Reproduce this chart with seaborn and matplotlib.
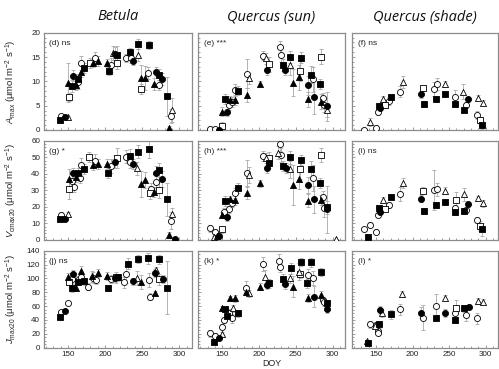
import numpy as np
import pandas as pd
import matplotlib
matplotlib.use('Agg')
import matplotlib.pyplot as plt
import seaborn as sns
from matplotlib.ticker import MultipleLocator

sns.set_theme(style='ticks')
plt.rcParams['font.family'] = ['Liberation Sans', 'DejaVu Sans']
plt.rcParams['mathtext.fontset'] = 'custom'
plt.rcParams['mathtext.rm'] = 'Liberation Sans'
plt.rcParams['mathtext.it'] = 'Liberation Sans:italic'

# ---------------- data ----------------
col_titles = ['Betula', 'Quercus (sun)', 'Quercus (shade)']
row_labels = [r'$A_{\rm max}$ (μmol m$^{-2}$ s$^{-1}$)',
              r'$V_{\rm cmax20}$ (μmol m$^{-2}$ s$^{-1}$)',
              r'$J_{\rm max20}$ (μmol m$^{-2}$ s$^{-1}$)']
panel_tags = ['(d) ns', '(e) ***', '(f) ns', '(g) *', '(h) ***', '(i) ns',
              '(j) ns', '(k) *', '(l) *']
x_ticks = [150, 200, 250, 300]
y_ticks = [[0, 5, 10, 15, 20], [0, 10, 20, 30, 40, 50, 60],
           [0, 20, 40, 60, 80, 100, 120, 140]]

# group codes: fc filled circle, oc open circle, fs filled square,
# os open square, ft filled triangle, ot open triangle
d_doy = [139, 140, 146, 150, 150, 151, 155, 157, 161, 163, 164, 168, 168, 171, 179, 187, 183, 190, 202, 205, 208, 211, 213, 216, 216, 228, 233, 235, 238, 244, 248, 244, 254, 248, 258, 259, 266, 268, 272, 272, 277, 284, 286, 289, 290]
d_val = [2.1, 2.9, 2.6, 2.6, 9.7, 6.8, 9.0, 11.2, 9.2, 9.9, 10.5, 13.8, 12.0, 12.8, 13.7, 14.8, 13.7, 14.2, 13.7, 12.2, 13.4, 15.8, 15.6, 15.4, 13.7, 14.8, 16.1, 14.7, 14.2, 17.7, 10.6, 15.4, 10.7, 8.4, 11.7, 17.5, 9.4, 12.0, 9.2, 11.4, 10.5, 6.9, 0.5, 2.9, 4.1]
d_err = [0.4, 0.4, 0.4, 0.3, 4.0, 0.8, 1.2, 1.2, 1.0, 1.5, 1.0, 1.5, 1.2, 1.0, 1.0, 1.2, 0.8, 1.0, 0.8, 0.8, 1.5, 1.5, 1.5, 1.8, 1.2, 0.8, 0.8, 1.0, 0.8, 1.0, 2.8, 1.2, 2.5, 1.0, 1.3, 0.8, 1.2, 1.0, 1.0, 1.2, 1.2, 4.0, 0.3, 1.5, 2.5]
d_grp = ['fs','oc','fc','ot','ft','os','fs','fc','ft','oc','fs','oc','ft','fs','os','oc','ft','ft','ft','fs','oc','ot','fc','fs','os','oc','fs','oc','fc','fs','ft','ot','ft','os','oc','fs','ft','fc','oc','fs','fc','fs','ft','oc','ot']

e_doy = [133, 140, 146, 150, 150, 156, 154, 159, 160, 168, 163, 167, 172, 183, 183, 187, 201, 206, 209, 214, 211, 228, 230, 232, 236, 242, 242, 246, 254, 257, 256, 284, 271, 266, 273, 266, 275, 283, 284, 287, 289, 292, 293]
e_val = [0.3, 0.3, 0.1, 0.8, 3.8, 3.6, 6.4, 5.1, 6.2, 6.2, 5.8, 8.2, 8.1, 7.2, 11.6, 10.6, 9.5, 15.3, 14.7, 13.5, 12.3, 17.1, 15.4, 13.4, 12.3, 15.0, 13.4, 9.7, 10.8, 14.9, 12.1, 15.1, 11.4, 9.2, 10.4, 6.3, 6.7, 9.4, 5.8, 6.5, 5.1, 4.9, 4.1]
e_err = [0.2, 0.2, 0.2, 0.8, 1.0, 0.8, 1.0, 1.0, 0.8, 1.0, 1.0, 1.2, 1.0, 1.5, 3.0, 1.2, 0.5, 1.0, 1.2, 1.5, 1.0, 1.2, 1.5, 1.2, 1.0, 1.2, 2.0, 2.8, 2.5, 1.2, 2.0, 1.5, 1.8, 2.0, 2.5, 1.5, 3.5, 1.0, 1.5, 1.2, 1.5, 3.0, 1.5]
e_grp = ['oc','oc','fc','os','ft','fc','fs','oc','ft','ft','oc','oc','fs','ft','oc','ot','ft','oc','ot','os','fc','oc','oc','fs','fc','fs','ot','ft','ft','fs','os','os','fs','fc','oc','ft','fc','fs','ft','oc','oc','fc','ot']

f_doy = [133, 141, 150, 153, 154, 155, 159, 162, 167, 170, 183, 187, 211, 215, 214, 229, 233, 232, 244, 244, 258, 258, 269, 271, 273, 276, 289, 296, 288, 292, 295]
f_val = [0.1, 1.7, 0.5, 3.6, 4.9, 4.5, 6.4, 5.1, 6.0, 6.8, 7.9, 9.9, 7.3, 5.3, 8.7, 8.4, 9.5, 6.4, 7.4, 9.4, 6.8, 5.3, 7.9, 4.2, 5.1, 6.3, 6.6, 5.6, 3.1, 2.1, 1.0]
f_err = [0.2, 0.8, 0.5, 0.5, 0.6, 0.5, 0.5, 0.6, 0.8, 0.6, 1.2, 1.2, 0.8, 0.6, 0.6, 1.5, 1.2, 0.6, 0.5, 0.6, 1.5, 0.6, 1.5, 0.6, 0.6, 0.5, 0.5, 0.5, 0.8, 0.6, 0.8]
f_grp = ['oc','ot','oc','oc','fs','fc','ot','os','oc','fs','oc','ot','fc','fs','os','oc','oc','fs','fs','ot','oc','fs','ot','fs','oc','fc','ot','ot','oc','os','fs']

g_doy = [139, 140, 146, 150, 151, 151, 155, 157, 158, 161, 164, 168, 166, 171, 178, 183, 187, 190, 202, 204, 208, 213, 216, 228, 233, 234, 238, 244, 243, 248, 259, 254, 260, 262, 266, 268, 272, 273, 269, 277, 284, 286, 289, 290, 294]
g_val = [12.9, 15.3, 12.9, 15.7, 36.6, 30.6, 35.6, 40.3, 32.2, 37.8, 40.7, 45.3, 37.2, 43.1, 49.9, 45.5, 47.9, 45.9, 45.7, 40.3, 44.7, 47.3, 49.7, 50.3, 50.9, 47.3, 45.9, 53.4, 43.3, 33.8, 54.8, 36.2, 28.6, 30.6, 29.2, 40.7, 42.3, 30.2, 35.2, 36.8, 24.6, 3.0, 11.7, 15.5, 0.4]
g_err = [1.5, 1.5, 1.5, 1.0, 6, 6, 4, 3, 3, 3, 3, 4, 3, 3, 3, 3, 4, 3, 3, 3, 4, 4, 6, 4, 4, 4, 3, 4, 4, 8, 5, 5, 4, 4, 3, 4, 4, 5, 4, 5, 10, 2, 5, 4, 0.5]
g_grp = ['fs','oc','fc','ot','ft','os','oc','fc','oc','ft','fs','oc','oc','fs','os','ft','oc','ft','ft','fs','oc','fc','os','oc','fs','oc','fc','fs','ot','ft','fs','ft','os','oc','ft','fc','fs','os','oc','fc','fs','ft','oc','ot','fc']

h_doy = [133, 140, 139, 146, 143, 150, 150, 156, 154, 159, 160, 153, 168, 163, 167, 171, 183, 183, 187, 201, 206, 209, 214, 214, 211, 228, 230, 226, 232, 237, 242, 242, 246, 254, 257, 256, 284, 271, 266, 273, 266, 275, 283, 284, 287, 289, 293, 293, 305]
h_val = [7.0, 5.0, 2.0, 2.6, 2.4, 6.4, 15.1, 13.7, 23.6, 18.5, 24.6, 17.1, 24.2, 22.1, 28.2, 31.6, 28.6, 40.3, 39.3, 34.2, 50.7, 49.3, 49.3, 46.7, 43.3, 58.0, 51.3, 52.7, 44.7, 43.7, 49.9, 42.7, 33.2, 36.6, 48.3, 42.7, 51.3, 42.7, 33.2, 37.6, 23.8, 24.6, 34.6, 24.2, 25.8, 19.1, 18.5, 19.7, 0.4]
h_err = [2, 1.5, 0.5, 0.8, 0.8, 2, 2, 2, 3, 2, 2, 2, 3, 2, 3, 3, 4, 8, 5, 2, 3, 3, 4, 3, 3, 4, 4, 4, 3, 3, 4, 5, 12, 6, 3, 6, 4, 5, 5, 8, 4, 8, 3, 3, 4, 5, 14, 4, 0.5]
h_grp = ['oc','oc','ot','fc','ft','os','ft','fc','fs','oc','ft','oc','ft','oc','oc','fs','ft','oc','ot','ft','oc','ot','os','fs','fc','oc','oc','ot','fs','fc','fs','ot','ft','ft','fs','os','os','fs','fc','oc','ft','fc','fs','ft','oc','oc','fc','fs','ot']

i_doy = [133, 141, 139, 150, 153, 154, 155, 159, 162, 167, 170, 183, 187, 211, 215, 214, 229, 233, 232, 244, 244, 258, 258, 260, 270, 271, 273, 276, 289, 296, 288, 292, 295]
i_val = [6.4, 9.1, 2.0, 5.0, 15.1, 19.1, 17.1, 24.2, 18.7, 21.1, 26.2, 27.8, 34.6, 25.0, 17.5, 29.8, 30.2, 30.6, 21.1, 23.2, 29.8, 19.1, 17.1, 24.2, 27.6, 17.5, 18.1, 21.7, 25.2, 22.1, 12.1, 8.5, 6.4]
i_err = [0.8, 1.5, 0.5, 1.5, 1.5, 2, 1.5, 1.5, 1.5, 2, 1.5, 4, 3, 2, 2, 2, 12, 4, 2, 1.5, 2, 2, 2, 5, 4, 2, 2, 1.5, 1.5, 2, 2, 3, 4]
i_grp = ['oc','oc','fs','oc','oc','fs','fc','ot','os','oc','fs','oc','ot','fc','fs','os','oc','oc','fs','fs','ot','oc','fs','os','ot','fs','oc','fc','ot','ot','oc','os','fs']

j_doy = [139, 140, 146, 150, 150, 151, 155, 157, 155, 161, 164, 164, 168, 168, 171, 177, 182, 183, 190, 188, 202, 204, 208, 215, 213, 217, 226, 228, 231, 238, 244, 243, 248, 258, 259, 260, 267, 267, 269, 273, 272, 278, 284]
j_val = [44.7, 51.0, 52.9, 64.0, 102.5, 95.2, 86.6, 106.8, 98.6, 86.6, 97.6, 95.2, 110.6, 102.0, 96.2, 88.0, 103.4, 101.0, 107.7, 97.6, 103.4, 85.6, 99.0, 101.5, 101.0, 101.5, 94.3, 105.8, 121.2, 96.2, 128.0, 100.0, 94.3, 128.9, 97.6, 73.6, 79.4, 108.2, 112.0, 127.5, 99.0, 99.0, 86.6]
j_err = [3, 4, 3, 3, 6, 5, 6, 5, 5, 5, 6, 5, 7, 5, 5, 5, 8, 8, 6, 6, 6, 4, 6, 8, 6, 5, 8, 12, 8, 5, 6, 10, 10, 8, 10, 5, 3, 6, 5, 6, 8, 6, 38]
j_grp = ['fs','oc','fc','oc','ft','os','fs','fc','oc','ft','oc','fs','ft','oc','fs','oc','ft','oc','ft','oc','ft','fs','oc','os','fc','fs','oc','oc','fs','fc','fs','ot','ft','fs','oc','oc','ft','fc','ot','fs','os','fc','fs']

k_doy = [133, 140, 139, 146, 150, 150, 150, 154, 153, 156, 160, 159, 163, 168, 165, 171, 182, 182, 187, 201, 206, 208, 211, 214, 227, 229, 232, 236, 242, 243, 246, 254, 257, 256, 271, 284, 266, 273, 265, 266, 275, 284, 287, 289, 293, 293]
k_val = [20.7, 17.3, 8.7, 13.5, 19.2, 30.3, 56.8, 55.3, 39.9, 46.2, 71.2, 50.5, 42.3, 71.2, 56.8, 49.5, 85.6, 80.8, 78.4, 88.0, 120.3, 102.5, 90.4, 92.8, 125.0, 116.9, 99.0, 91.4, 100.0, 114.5, 88.0, 109.7, 124.0, 105.8, 123.0, 109.7, 104.9, 100.0, 92.8, 72.2, 73.6, 76.0, 68.8, 65.4, 64.0, 55.8]
k_err = [5, 4, 2, 3, 3, 4, 4, 4, 4, 4, 4, 5, 6, 5, 5, 5, 10, 5, 5, 5, 10, 10, 5, 6, 10, 8, 8, 6, 6, 8, 15, 12, 6, 5, 6, 6, 8, 10, 6, 6, 15, 6, 5, 5, 5, 5]
k_grp = ['oc','oc','fs','fc','ot','oc','ft','fs','oc','fs','ft','oc','oc','ft','ot','fs','oc','ft','ot','ft','oc','ot','fc','fs','oc','oc','fs','fc','ot','fs','ft','ot','fs','os','fs','fs','oc','oc','fs','ft','fc','ft','oc','oc','fs','fc']

l_doy = [138, 139, 141, 150, 148, 152, 153, 154, 155, 158, 170, 183, 186, 211, 214, 232, 232, 244, 244, 258, 258, 260, 271, 277, 273, 289, 296, 288]
l_val = [9.6, 6.3, 33.7, 32.7, 31.0, 24.0, 20.7, 33.7, 54.4, 49.5, 48.1, 55.3, 77.4, 50.5, 43.3, 43.3, 60.1, 50.5, 72.2, 49.5, 39.9, 56.8, 56.8, 59.2, 47.1, 67.3, 66.4, 42.3]
l_err = [2, 1.5, 5, 4, 3, 4, 3, 5, 6, 5, 6, 8, 4, 8, 18, 4, 18, 6, 4, 6, 4, 12, 5, 4, 8, 4, 4, 8]
l_grp = ['ot','fs','oc','oc','ot','oc','oc','fs','fc','ot','fs','oc','ot','fc','oc','fs','oc','fc','ot','oc','fs','os','fs','fc','oc','ot','ot','oc']

panels = [(d_doy, d_val, d_err, d_grp), (e_doy, e_val, e_err, e_grp), (f_doy, f_val, f_err, f_grp),
          (g_doy, g_val, g_err, g_grp), (h_doy, h_val, h_err, h_grp), (i_doy, i_val, i_err, i_grp),
          (j_doy, j_val, j_err, j_grp), (k_doy, k_val, k_err, k_grp), (l_doy, l_val, l_err, l_grp)]

styles = {'oc': ('o', 'white'), 'os': ('s', 'white'), 'ot': ('^', 'white'),
          'fc': ('o', 'black'), 'fs': ('s', 'black'), 'ft': ('^', 'black')}
sizes = {'o': 19, 's': 16, '^': 19}

# ---------------- layout ----------------
W, H = 499, 369
fig = plt.figure(figsize=(W / 100, H / 100), dpi=100)
fig.patch.set_facecolor('white')
cols_px = [(43.5, 192.0), (198.0, 345.0), (352.0, 498.0)]
rows_px = [(32.7, 130.0), (140.7, 240.0), (250.7, 347.7)]
y_minor = [1, 2, 5]
spine_c = '#8c8c8c'

for r in range(3):
    for c in range(3):
        x0, x1 = cols_px[c]
        y0, y1 = rows_px[r]
        ax = fig.add_axes([x0 / W, 1 - y1 / H, (x1 - x0) / W, (y1 - y0) / H])
        doy, val, err, grp = panels[r * 3 + c]
        df = pd.DataFrame({'doy': doy, 'val': val, 'err': err, 'grp': grp})
        ax.errorbar(df['doy'], df['val'], yerr=df['err'], fmt='none',
                    ecolor='#a8a8a8', elinewidth=0.6, capsize=1.4, capthick=0.6, zorder=1)
        for g in ['oc', 'os', 'ot', 'fc', 'fs', 'ft']:
            sub = df[df['grp'] == g]
            if len(sub) == 0:
                continue
            m, fc = styles[g]
            sns.scatterplot(data=sub, x='doy', y='val', marker=m, color=fc,
                            edgecolor='black', linewidth=0.6,
                            s=sizes[m], ax=ax, legend=False, zorder=3)
        ax.set_xlim(117, 317)
        ax.set_ylim(y_ticks[r][0], y_ticks[r][-1])
        ax.set_xticks(x_ticks)
        ax.set_yticks(y_ticks[r])
        ax.xaxis.set_minor_locator(MultipleLocator(10))
        ax.yaxis.set_minor_locator(MultipleLocator(y_minor[r]))
        ax.tick_params(which='both', direction='in', color=spine_c, labelsize=5.8,
                       labelcolor='#222222', width=0.6)
        ax.tick_params(which='major', length=2.5, pad=2.5)
        ax.tick_params(which='minor', length=1.3)
        for sp in ax.spines.values():
            sp.set_color(spine_c)
            sp.set_linewidth(0.9)
        ax.set_xlabel('')
        ax.set_ylabel('')
        if c != 0:
            ax.set_yticklabels([])
        else:
            ax.set_ylabel(row_labels[r], fontsize=6.8, color='#222222')
            ax.yaxis.set_label_coords(-0.165, 0.5)
        if r != 2:
            ax.set_xticklabels([])
        ax.text(0.04, 0.89, panel_tags[r * 3 + c], transform=ax.transAxes,
                fontsize=6.0, va='center', ha='left', color='#222222')

centers = [(a + b) / 2 for a, b in cols_px]
for c in range(3):
    fig.text(centers[c] / W, 1 - 17 / H, col_titles[c], ha='center', va='center',
             fontsize=10.5, style='italic', family=['Open Sans', 'DejaVu Sans'], color='#111111')
fig.text(centers[1] / W, 1 - 363 / H, 'DOY', ha='center', va='center', fontsize=6.4, color='#222222')

fig.savefig('out.png', dpi=100, facecolor='white')
